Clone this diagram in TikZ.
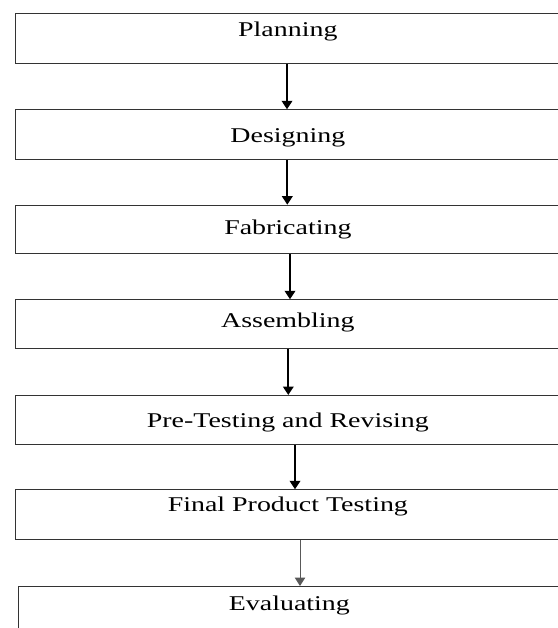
\documentclass[tikz,border=0pt]{standalone}
\usepackage{fontspec}
\setmainfont{Liberation Serif}[FakeStretch=1.33]
\usetikzlibrary{arrows.meta}
\begin{document}
\begin{tikzpicture}[x=1pt,y=-1pt,
  stage/.style={draw=black!80, line width=1.1pt, rectangle, anchor=north west, minimum width=544pt, inner ysep=0pt, font=\fontsize{21}{25}\selectfont},
  flow/.style={draw, line width=2pt, -{Triangle[width=10.5pt,length=8.5pt]}}]
\useasboundingbox (0,0) rectangle (557,628);
\node[stage, text height=22.7pt, text depth=26.7pt] (1) at (15.3,13.3) {Planning};
\node[stage, text height=32.4pt, text depth=17pt] (2) at (15.3,109.3) {Designing};
\node[stage, text height=29.3pt, text depth=19.3pt] (3) at (15.3,204.7) {Fabricating};
\node[stage, text height=28pt, text depth=21pt] (4) at (15.3,299.3) {Assembling};
\node[stage, text height=32.3pt, text depth=16.7pt] (5) at (15.3,395) {Pre-Testing and Revising};
\node[stage, text height=21.7pt, text depth=28.3pt] (6) at (15.3,489.3) {Final Product Testing};
\node[stage, text height=24pt, text depth=25pt, minimum width=541pt] (7) at (18.3,586) {Evaluating};
\path[flow] (1.south -| 287,0) -- (2.north -| 287,0);
\path[flow] (2.south -| 287.3,0) -- (3.north -| 287.3,0);
\path[flow] (3.south -| 290,0) -- (4.north -| 290,0);
\path[flow] (4.south -| 288.3,0) -- (5.north -| 288.3,0);
\path[flow] (5.south -| 295,0) -- (6.north -| 295,0);
\path[flow, draw=black!65, line width=1pt] (6.south -| 300,0) -- (7.north -| 300,0);
\end{tikzpicture}
\end{document}
